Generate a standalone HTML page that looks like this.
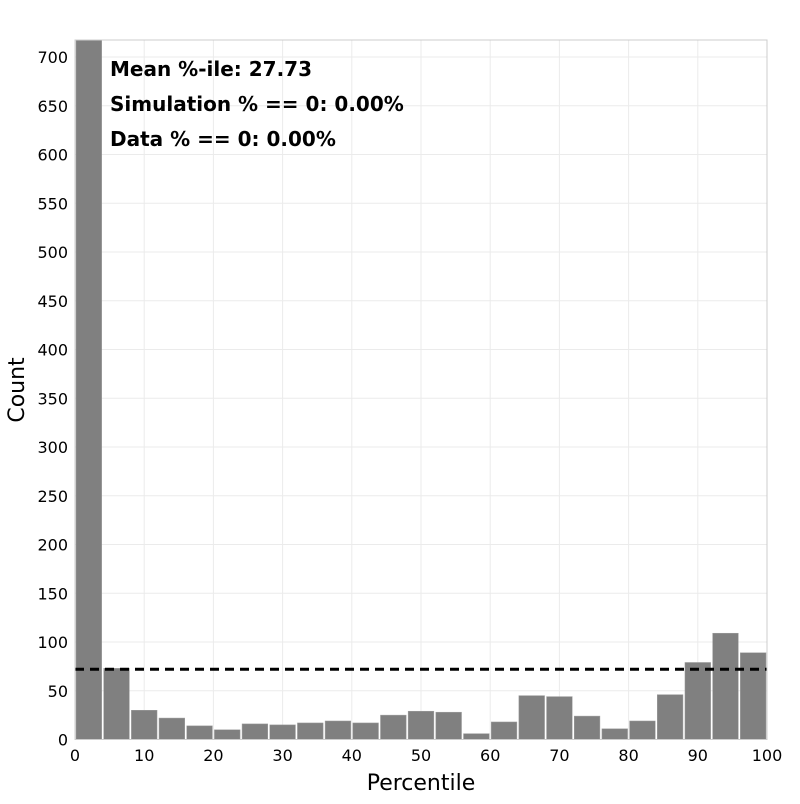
<!DOCTYPE html>
<html><head><meta charset="utf-8"><style>
body{margin:0;background:#fff;font-family:"DejaVu Sans","Liberation Sans",sans-serif;}
svg text{font-family:"DejaVu Sans","Liberation Sans",sans-serif;}
</style></head><body>
<svg id="chart" width="800" height="800" xmlns="http://www.w3.org/2000/svg"></svg>
<script>
const binStarts=[0,4,8,12,16,20,24,28,32,36,40,44,48,52,56,60,64,68,72,76,80,84,88,92,96];
const counts=[1000,73,30,22,14,10,16,15,17,19,17,25,29,28,6,18,45,44,24,11,19,46,79,109,89];
const binWidth=4;
const refLine=72;
const xTicks=[0,10,20,30,40,50,60,70,80,90,100];
const yTicks=[0,50,100,150,200,250,300,350,400,450,500,550,600,650,700];
const annotations=["Mean %-ile: 27.73","Simulation % == 0: 0.00%","Data % == 0: 0.00%"];

const NS="http://www.w3.org/2000/svg";
const svg=document.getElementById('chart');
const L=75,R=767,T=40,B=739.5;
const yMax=(B-T)/0.975;
const xs=v=>L+(v/100)*(R-L);
const ys=v=>B-(v/yMax)*(B-T);
function el(tag,attrs,parent){const e=document.createElementNS(NS,tag);for(const k in attrs)e.setAttribute(k,attrs[k]);(parent||svg).appendChild(e);return e;}
const clip=el('clipPath',{id:'pc'});el('rect',{x:L,y:T,width:R-L,height:B-T},clip);
xTicks.forEach(t=>{const g=el('line',{x1:xs(t),x2:xs(t),y1:T,y2:B,stroke:'#ebebeb','stroke-width':1});

});
yTicks.forEach(t=>{const g=el('line',{x1:L,x2:R,y1:ys(t),y2:ys(t),stroke:'#ebebeb','stroke-width':1});

});
const gb=el('g',{'clip-path':'url(#pc)'});
counts.forEach((c,i)=>{const x0=xs(binStarts[i]),x1=xs(binStarts[i]+binWidth);
const r=el('rect',{x:x0+1,y:ys(c),width:x1-x0-2,height:B-ys(c),fill:'#808080',stroke:'#a0a0a0','stroke-width':0.5},gb);

});
const dl=el('line',{x1:L,x2:R,y1:ys(refLine),y2:ys(refLine),stroke:'#000','stroke-width':3,'stroke-dasharray':'9,6'});


const fr=el('rect',{x:L,y:T,width:R-L,height:B-T,fill:'none',stroke:'#cccccc','stroke-width':1});


xTicks.forEach(t=>{const tx=el('text',{x:xs(t),y:761,'font-size':16,'text-anchor':'middle',fill:'#000'});tx.textContent=t;

});
yTicks.forEach(t=>{const tx=el('text',{x:68,y:ys(t)+6,'font-size':16,'text-anchor':'end',fill:'#000'});tx.textContent=t;

});
const xt=el('text',{x:421,y:790,'font-size':22,'text-anchor':'middle'});xt.textContent='Percentile';


const yt=el('text',{x:0,y:0,'font-size':22,'text-anchor':'middle',transform:'translate(24,390) rotate(-90)'});yt.textContent='Count';


annotations.forEach((a,i)=>{const tx=el('text',{x:110,y:76+i*35,'font-size':20,'font-weight':'bold'});tx.textContent=a;

});
</script>
</body></html>
